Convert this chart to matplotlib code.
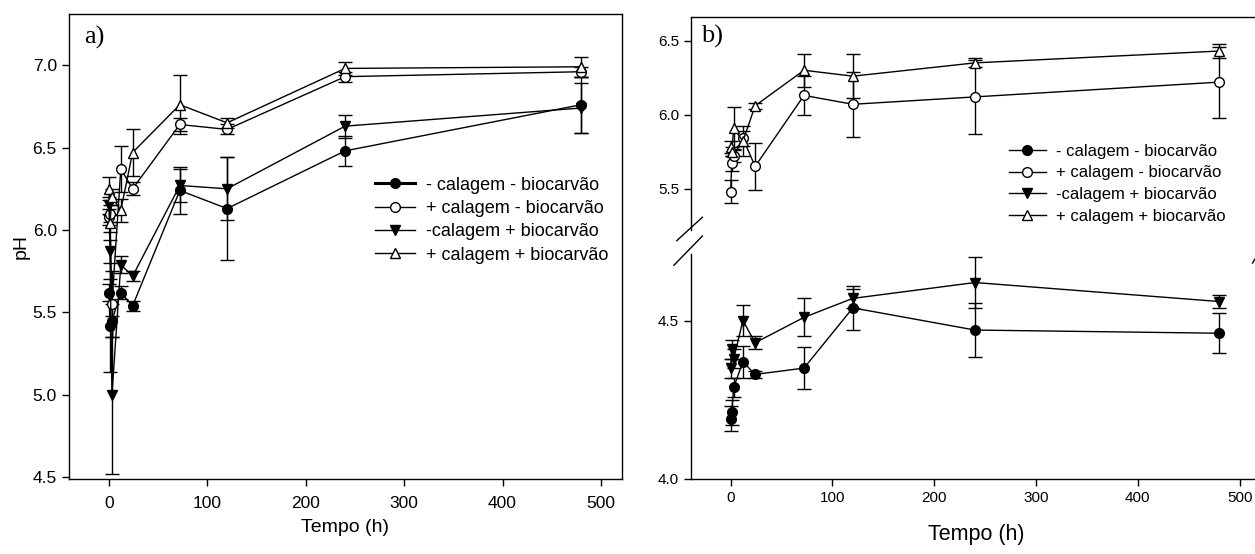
import matplotlib
matplotlib.use('Agg')
from matplotlib import pyplot as plt
from matplotlib.ticker import FormatStrFormatter

plt.rcParams['font.family'] = ['Liberation Sans Narrow', 'Liberation Sans', 'DejaVu Sans']

# sampling times (h)
tempo = [0, 1, 3, 12, 24, 72, 120, 240, 480]

labels = ['- calagem - biocarvão', '+ calagem - biocarvão',
          '-calagem + biocarvão', '+ calagem + biocarvão']

# a) pH
a_cal0_bio0 = [5.62, 5.42, 5.45, 5.62, 5.54, 6.24, 6.13, 6.48, 6.76]
a_cal0_bio0_err = [0.05, 0.28, 0.10, 0.04, 0.03, 0.14, 0.31, 0.09, 0.17]
a_cal1_bio0 = [6.08, 6.10, 5.55, 6.37, 6.25, 6.64, 6.61, 6.93, 6.96]
a_cal1_bio0_err = [0.05, 0.05, 0.20, 0.14, 0.04, 0.04, 0.03, 0.03, 0.03]
a_cal0_bio1 = [6.15, 5.87, 5.00, 5.79, 5.72, 6.27, 6.25, 6.63, 6.74]
a_cal0_bio1_err = [0.05, 0.07, 0.48, 0.05, 0.03, 0.10, 0.19, 0.07, 0.15]
a_cal1_bio1 = [6.25, 6.04, 6.20, 6.12, 6.47, 6.76, 6.65, 6.98, 6.99]
a_cal1_bio1_err = [0.07, 0.05, 0.05, 0.07, 0.14, 0.18, 0.03, 0.04, 0.06]

# b) pH
b_cal0_bio0 = [4.19, 4.21, 4.29, 4.37, 4.33, 4.35, 4.54, 4.47, 4.46]
b_cal0_bio0_err = [0.04, 0.04, 0.03, 0.05, 0.01, 0.065, 0.07, 0.085, 0.063]
b_cal1_bio0 = [5.48, 5.67, 5.72, 5.84, 5.65, 6.13, 6.07, 6.12, 6.22]
b_cal1_bio0_err = [0.08, 0.05, 0.04, 0.05, 0.16, 0.13, 0.22, 0.25, 0.24]
b_cal0_bio1 = [4.35, 4.41, 4.38, 4.50, 4.43, 4.51, 4.57, 4.62, 4.56]
b_cal0_bio1_err = [0.03, 0.03, 0.03, 0.05, 0.02, 0.06, 0.03, 0.08, 0.02]
b_cal1_bio1 = [5.78, 5.75, 5.91, 5.82, 6.06, 6.30, 6.26, 6.35, 6.43]
b_cal1_bio1_err = [0.04, 0.03, 0.14, 0.10, 0.02, 0.11, 0.15, 0.03, 0.05]

styles = [dict(marker='o', mfc='black'),
          dict(marker='o', mfc='white'),
          dict(marker='v', mfc='black'),
          dict(marker='^', mfc='white')]


def draw(ax, y, err, i):
    ax.errorbar(tempo, y, yerr=err, color='black', lw=1, ms=7, mec='black',
                capsize=5, elinewidth=1, capthick=1, **styles[i])


def style_axis(ax, size):
    ax.tick_params(direction='out', length=5, width=1, labelsize=size)
    ax.yaxis.set_major_formatter(FormatStrFormatter('%.1f'))
    for s in ax.spines.values():
        s.set_linewidth(1)


def add_legend(ax, anchor, size, spacing, lw_first=1.0):
    handles = []
    for i in range(4):
        h, = ax.plot([], [], color='black', lw=lw_first if i == 0 else 1,
                     ms=7, mec='black', **styles[i])
        handles.append(h)
    ax.legend(handles, labels, loc='upper left', bbox_to_anchor=anchor,
              frameon=False, fontsize=size, handlelength=2.2,
              labelspacing=spacing, handletextpad=0.6, borderpad=0,
              borderaxespad=0)


fig = plt.figure(figsize=(12.55, 5.54), dpi=100)

# panel a
ax = fig.add_axes([0.0547, 0.1354, 0.4406, 0.8393])
series_a = [(a_cal0_bio0, a_cal0_bio0_err), (a_cal1_bio0, a_cal1_bio0_err),
            (a_cal0_bio1, a_cal0_bio1_err), (a_cal1_bio1, a_cal1_bio1_err)]
for i, (y, e) in enumerate(series_a):
    draw(ax, y, e, i)
ax.set_xlim(-41, 521)
ax.set_ylim(4.49, 7.31)
ax.set_xticks([0, 100, 200, 300, 400, 500])
ax.set_yticks([4.5, 5.0, 5.5, 6.0, 6.5, 7.0])
style_axis(ax, 12.5)
ax.tick_params(axis='x', pad=7)
ax.set_xlabel('Tempo (h)', fontsize=14, labelpad=6)
ax.set_ylabel('pH', fontsize=14, labelpad=2)
ax.text(0.028, 0.975, 'a)', transform=ax.transAxes, va='top',
        fontsize=19, family='Liberation Serif')
add_legend(ax, (0.554, 0.65), 13, 0.35, lw_first=2.2)

# panel b, broken y axis
ax_top = fig.add_axes([0.5506, 0.5848, 0.4542, 0.3845])
ax_bot = fig.add_axes([0.5506, 0.1354, 0.4542, 0.4061])
draw(ax_bot, b_cal0_bio0, b_cal0_bio0_err, 0)
draw(ax_top, b_cal1_bio0, b_cal1_bio0_err, 1)
draw(ax_bot, b_cal0_bio1, b_cal0_bio1_err, 2)
draw(ax_top, b_cal1_bio1, b_cal1_bio1_err, 3)
for a in (ax_top, ax_bot):
    a.set_xlim(-39, 521)
    style_axis(a, 11)
    a.spines['right'].set_visible(False)
ax_top.set_ylim(5.22, 6.66)
ax_top.set_yticks([5.5, 6.0, 6.5])
ax_top.spines['bottom'].set_visible(False)
ax_top.tick_params(bottom=False, labelbottom=False)
ax_bot.set_ylim(4.0, 4.71)
ax_bot.set_yticks([4.0, 4.5])
ax_bot.set_xticks([0, 100, 200, 300, 400, 500])
ax_bot.spines['top'].set_visible(False)
ax_bot.set_xlabel('Tempo (h)', fontsize=15.5, labelpad=14)

# break marks
kw = dict(color='black', lw=1, clip_on=False)
ax_top.plot([-0.025, 0.02], [-0.05, 0.06], transform=ax_top.transAxes, **kw)
ax_bot.plot([-0.03, 0.02], [0.95, 1.08], transform=ax_bot.transAxes, **kw)
ax_bot.plot([0.985, 0.995], [0.96, 1.0], transform=ax_bot.transAxes, **kw)

ax_top.text(0.018, 0.965, 'b)', transform=ax_top.transAxes, va='top',
            fontsize=19, family='Liberation Serif')
add_legend(ax_top, (0.558, 0.405), 12, 0.4)

fig.savefig('out.png', dpi=100)
